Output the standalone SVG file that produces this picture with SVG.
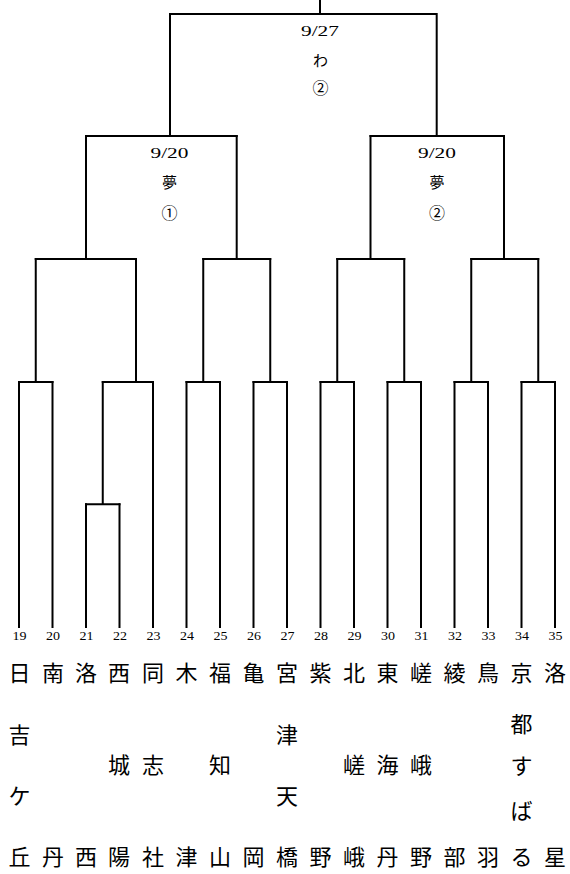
<svg xmlns="http://www.w3.org/2000/svg" width="570" height="874" viewBox="0 0 570 874">
<style>
.ln{fill:none;stroke:#000;stroke-width:2;stroke-linecap:square}
.num{font-family:"Liberation Serif",serif;font-size:12px;fill:#000;text-anchor:middle}
.date{font-family:"Liberation Serif",serif;font-size:15px;fill:#000;text-anchor:middle}
.venue{font-family:"Noto Sans CJK JP",sans-serif;font-size:15px;fill:#000;text-anchor:middle}
.circ{font-family:"Noto Sans CJK JP",sans-serif;font-size:16px;fill:#000;text-anchor:middle}
.nm{font-family:"Noto Sans CJK JP",sans-serif;font-size:22px;fill:#000;text-anchor:middle}
</style>
<rect width="570" height="874" fill="#fff"/>
<g id="connectors">
<path class="ln" d="M19 382V627M52.5 382V627M86 504.3V627M119.5 504.3V627M153 382V627M186.5 382V627M220 382V627M253.5 382V627M287 382V627M320.5 382V627M354 382V627M387.5 382V627M421 382V627M454.5 382V627M488 382V627M521.5 382V627M555 382V627"/>
<path class="ln" d="M86 504.3H119.5M102.75 382V504.3"/>
<path class="ln" d="M19 382H52.5M102.75 382H153M186.5 382H220M253.5 382H287M320.5 382H354M387.5 382H421M454.5 382H488M521.5 382H555"/>
<path class="ln" d="M35.75 259V382M136 259V382M203.25 259V382M270.25 259V382M337.25 259V382M404.25 259V382M471.25 259V382M538.25 259V382"/>
<path class="ln" d="M35.75 259H136M203.25 259H270.25M337.25 259H404.25M471.25 259H538.25"/>
<path class="ln" d="M86 136V259M236.7 136V259M370.5 136V259M504 136V259"/>
<path class="ln" d="M86 136H236.7M370.5 136H504"/>
<path class="ln" d="M170 14V136M436.7 14V136M170 14H436.7M320 0V14"/>
</g>
<g id="match-final">
<text class="date" x="320" y="35.5" textLength="38" lengthAdjust="spacingAndGlyphs">9/27</text>
<text class="venue" x="320.5" y="66">わ</text>
<text class="circ" x="320.5" y="94">②</text>
</g>
<g id="match-semi-1">
<text class="date" x="169.5" y="157.5" textLength="38" lengthAdjust="spacingAndGlyphs">9/20</text>
<text class="venue" x="169.5" y="188">夢</text>
<text class="circ" x="169.5" y="219">①</text>
</g>
<g id="match-semi-2">
<text class="date" x="437" y="157.5" textLength="38" lengthAdjust="spacingAndGlyphs">9/20</text>
<text class="venue" x="437" y="188">夢</text>
<text class="circ" x="437" y="219">②</text>
</g>
<g id="team-19"><text class="num" x="19.5" y="640" textLength="14" lengthAdjust="spacingAndGlyphs">19</text><text class="nm" x="19.5" y="681">日</text><text class="nm" x="19.5" y="743">吉</text><text class="nm" x="19.5" y="804">ケ</text><text class="nm" x="19.5" y="865.4">丘</text></g>
<g id="team-20"><text class="num" x="53" y="640" textLength="14" lengthAdjust="spacingAndGlyphs">20</text><text class="nm" x="53" y="681">南</text><text class="nm" x="53" y="865.4">丹</text></g>
<g id="team-21"><text class="num" x="86.5" y="640" textLength="14" lengthAdjust="spacingAndGlyphs">21</text><text class="nm" x="86" y="681">洛</text><text class="nm" x="86" y="865.4">西</text></g>
<g id="team-22"><text class="num" x="120" y="640" textLength="14" lengthAdjust="spacingAndGlyphs">22</text><text class="nm" x="119" y="681">西</text><text class="nm" x="119" y="773.4">城</text><text class="nm" x="119" y="865.4">陽</text></g>
<g id="team-23"><text class="num" x="153.5" y="640" textLength="14" lengthAdjust="spacingAndGlyphs">23</text><text class="nm" x="153" y="681">同</text><text class="nm" x="153" y="773.4">志</text><text class="nm" x="153" y="865.4">社</text></g>
<g id="team-24"><text class="num" x="187" y="640" textLength="14" lengthAdjust="spacingAndGlyphs">24</text><text class="nm" x="186.5" y="681">木</text><text class="nm" x="186.5" y="865.4">津</text></g>
<g id="team-25"><text class="num" x="220.5" y="640" textLength="14" lengthAdjust="spacingAndGlyphs">25</text><text class="nm" x="220" y="681">福</text><text class="nm" x="220" y="773.4">知</text><text class="nm" x="220" y="865.4">山</text></g>
<g id="team-26"><text class="num" x="254" y="640" textLength="14" lengthAdjust="spacingAndGlyphs">26</text><text class="nm" x="253.5" y="681">亀</text><text class="nm" x="253.5" y="865.4">岡</text></g>
<g id="team-27"><text class="num" x="287.5" y="640" textLength="14" lengthAdjust="spacingAndGlyphs">27</text><text class="nm" x="287" y="681">宮</text><text class="nm" x="287" y="743">津</text><text class="nm" x="287" y="804">天</text><text class="nm" x="287" y="865.4">橋</text></g>
<g id="team-28"><text class="num" x="321" y="640" textLength="14" lengthAdjust="spacingAndGlyphs">28</text><text class="nm" x="320.5" y="681">紫</text><text class="nm" x="320.5" y="865.4">野</text></g>
<g id="team-29"><text class="num" x="354.5" y="640" textLength="14" lengthAdjust="spacingAndGlyphs">29</text><text class="nm" x="354" y="681">北</text><text class="nm" x="354" y="773.4">嵯</text><text class="nm" x="354" y="865.4">峨</text></g>
<g id="team-30"><text class="num" x="388" y="640" textLength="14" lengthAdjust="spacingAndGlyphs">30</text><text class="nm" x="387.5" y="681">東</text><text class="nm" x="387.5" y="773.4">海</text><text class="nm" x="387.5" y="865.4">丹</text></g>
<g id="team-31"><text class="num" x="421.5" y="640" textLength="14" lengthAdjust="spacingAndGlyphs">31</text><text class="nm" x="421" y="681">嵯</text><text class="nm" x="421" y="773.4">峨</text><text class="nm" x="421" y="865.4">野</text></g>
<g id="team-32"><text class="num" x="455" y="640" textLength="14" lengthAdjust="spacingAndGlyphs">32</text><text class="nm" x="454.5" y="681">綾</text><text class="nm" x="454.5" y="865.4">部</text></g>
<g id="team-33"><text class="num" x="488.5" y="640" textLength="14" lengthAdjust="spacingAndGlyphs">33</text><text class="nm" x="488" y="681">鳥</text><text class="nm" x="488" y="865.4">羽</text></g>
<g id="team-34"><text class="num" x="522" y="640" textLength="14" lengthAdjust="spacingAndGlyphs">34</text><text class="nm" x="521.5" y="681">京</text><text class="nm" x="521.5" y="732.4">都</text><text class="nm" x="521.5" y="774.4">す</text><text class="nm" x="521.5" y="819.4">ば</text><text class="nm" x="521.5" y="865.4">る</text></g>
<g id="team-35"><text class="num" x="555.5" y="640" textLength="14" lengthAdjust="spacingAndGlyphs">35</text><text class="nm" x="555" y="681">洛</text><text class="nm" x="555" y="865.4">星</text></g>
</svg>
